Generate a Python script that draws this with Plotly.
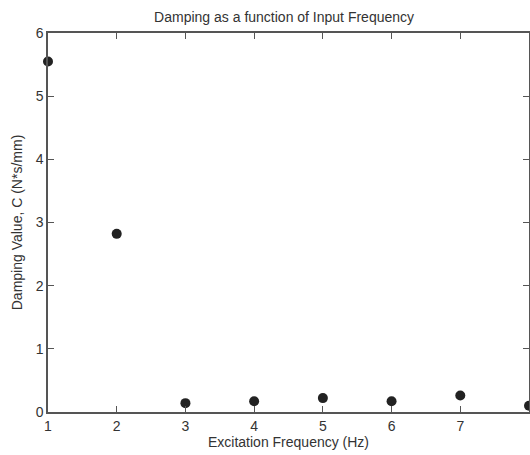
import plotly.graph_objects as go

freq = [1, 2, 3, 4, 5, 6, 7, 8]
damping = [5.55, 2.82, 0.14, 0.17, 0.22, 0.17, 0.26, 0.10]
x_ticks = [1, 2, 3, 4, 5, 6, 7, 8]
y_ticks = [0, 1, 2, 3, 4, 5, 6]

FONT = "Liberation Sans, Arial, sans-serif"

fig = go.Figure()
fig.add_trace(go.Scatter(
    x=freq, y=damping, mode="markers",
    marker=dict(size=10, color="#222222", line=dict(width=0)),
    cliponaxis=False, showlegend=False,
))

axis_common = dict(
    showgrid=False, zeroline=False, showline=True, linecolor="#555555", linewidth=1.5,
    mirror="allticks", ticks="inside", ticklen=6, tickcolor="#555555", tickwidth=1.2,
    tickfont=dict(family=FONT, size=14, color="#333333"), automargin=False,
)

fig.update_layout(
    width=530, height=455,
    margin=dict(l=48, r=1, t=33, b=43),
    paper_bgcolor="white", plot_bgcolor="white",
    title=dict(text="Damping as a function of Input Frequency", x=0.536, xanchor="center",
               y=0.963, yanchor="middle", automargin=False,
               font=dict(family=FONT, size=14, color="#333333")),
    xaxis=dict(range=[1, 8], tickvals=x_ticks, ticktext=[str(v) for v in x_ticks],
               title=dict(text="Excitation Frequency (Hz)", standoff=4,
                          font=dict(family=FONT, size=14, color="#333333")),
               **axis_common),
    yaxis=dict(range=[0, 6], tickvals=y_ticks, ticktext=[str(v) for v in y_ticks],
               title=dict(text="Damping Value, C (N*s/mm)", standoff=10,
                          font=dict(family=FONT, size=14, color="#333333")),
               **axis_common),
)

fig.write_html(
    "out.html",
    config={"displayModeBar": False},
    post_script="document.body.style.margin='0';document.body.style.overflow='hidden';",
)
